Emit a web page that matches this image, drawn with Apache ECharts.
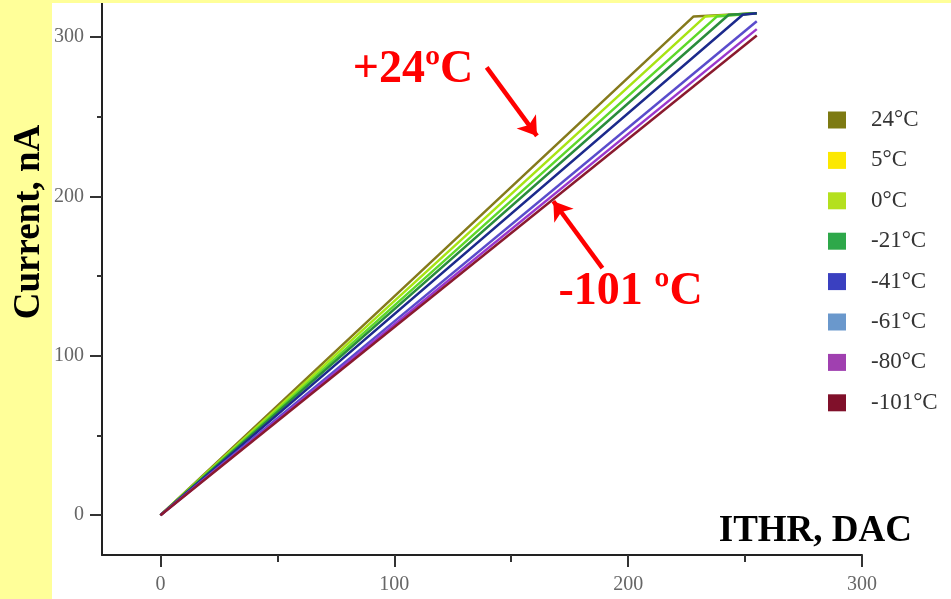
<!DOCTYPE html>
<html>
<head>
<meta charset="utf-8">
<script src="https://cdn.jsdelivr.net/npm/echarts@6/dist/echarts.min.js"></script>
<style>
  html, body { margin: 0; padding: 0; background: #ffffff; }
  #chart { width: 951px; height: 599px; }
</style>
</head>
<body>
<div id="chart"></div>
<script>
// ---- data ----
const seriesNames = ['24°C', '5°C', '0°C', '-21°C', '-41°C', '-61°C', '-80°C', '-101°C'];
const curve24  = [[0, 0], [228, 313], [255, 315]];
const curve5   = [[0, 0], [233, 313], [255, 315]];
const curve0   = [[0, 0], [238, 313], [255, 315]];
const curveM21 = [[0, 0], [243, 314], [255, 315]];
const curveM41 = [[0, 0], [249, 314], [255, 315]];
const curveM61 = [[0, 0], [255, 310]];
const curveM80 = [[0, 0], [255, 305]];
const curveM101 = [[0, 0], [255, 301]];
const curves = [curve24, curve5, curve0, curveM21, curveM41, curveM61, curveM80, curveM101];

const xTicks = [0, 100, 200, 300];
const yTicks = [0, 100, 200, 300];
const xMinorTicks = [50, 150, 250];
const yMinorTicks = [50, 150, 250];

// annotation arrows in data coordinates: [from, to]
const arrowHot  = [[139.5, 281], [161, 238]];
const arrowCold = [[189, 155], [168, 197]];
const labelHot  = { text: '+24ºC', at: [108, 279] };
const labelCold = { text: '-101 ºC', at: [201, 140] };

// ---- styles ----
const lineColors   = ['#857a1c', '#a8e414', '#5ed82a', '#2a8c3c', '#1c2a8c', '#5a4ccc', '#9a36cc', '#8a1a2e'];
const legendColors = ['#7d7a12', '#fce800', '#b4e01e', '#2ea84a', '#3a40c0', '#6a98cc', '#a040b0', '#80102a'];
const serif = '"Liberation Serif", "DejaVu Serif", serif';

const chart = echarts.init(document.getElementById('chart'), null, { renderer: 'canvas' });

const series = curves.map((d, i) => ({
  name: seriesNames[i],
  type: 'line',
  data: d,
  xAxisIndex: 0,
  yAxisIndex: 0,
  showSymbol: false,
  symbol: 'none',
  lineStyle: { color: lineColors[i], width: 2.5 },
  itemStyle: { color: lineColors[i] },
  z: 2 + i
}));

series[series.length - 1].markLine = {
  silent: true,
  symbol: ['none', 'arrow'],
  symbolSize: 18,
  label: { show: false },
  lineStyle: { color: '#ff0000', width: 4.5, type: 'solid' },
  data: [
    [{ coord: arrowHot[0] }, { coord: arrowHot[1] }],
    [{ coord: arrowCold[0] }, { coord: arrowCold[1] }]
  ]
};

const axisLineStyle = { color: '#222', width: 2 };

chart.setOption({
  animation: false,
  backgroundColor: '#ffffff',
  grid: { left: 102, right: 89, top: 3, bottom: 44, containLabel: false },
  legend: {
    orient: 'vertical',
    left: 823,
    top: 103.5,
    icon: 'rect',
    itemWidth: 18,
    itemHeight: 17,
    itemGap: 17.4,
    textStyle: { fontFamily: serif, fontSize: 23, color: '#333', padding: [0, 0, 0, 20] },
    data: seriesNames.map((n, i) => ({ name: n, itemStyle: { color: legendColors[i] } }))
  },
  xAxis: [
    {
      type: 'value', min: -25, max: 300,
      axisLine: { show: true, onZero: false, lineStyle: axisLineStyle },
      axisTick: { show: true, customValues: xTicks, length: 12, lineStyle: { color: '#333', width: 2 } },
      axisLabel: { customValues: xTicks, fontFamily: serif, fontSize: 20, color: '#666', margin: 20 },
      splitLine: { show: false }
    },
    {
      type: 'value', min: -25, max: 300, position: 'bottom',
      axisLine: { show: false, onZero: false },
      axisTick: { show: true, customValues: xMinorTicks, length: 7, lineStyle: { color: '#333', width: 2 } },
      axisLabel: { show: false },
      splitLine: { show: false }
    }
  ],
  yAxis: [
    {
      type: 'value', min: -25, max: 321.4,
      axisLine: { show: true, onZero: false, lineStyle: axisLineStyle },
      axisTick: { show: true, customValues: yTicks, length: 12, lineStyle: { color: '#333', width: 2 } },
      axisLabel: { customValues: yTicks, fontFamily: serif, fontSize: 20, color: '#666', margin: 18 },
      splitLine: { show: false }
    },
    {
      type: 'value', min: -25, max: 321.4, position: 'left',
      axisLine: { show: false, onZero: false },
      axisTick: { show: true, customValues: yMinorTicks, length: 5, lineStyle: { color: '#333', width: 2 } },
      axisLabel: { show: false },
      splitLine: { show: false }
    }
  ],
  series: series
});

const pHot = chart.convertToPixel({ xAxisIndex: 0, yAxisIndex: 0 }, labelHot.at);
const pCold = chart.convertToPixel({ xAxisIndex: 0, yAxisIndex: 0 }, labelCold.at);

chart.setOption({
  graphic: [
    { type: 'rect', left: 0, top: 0, shape: { width: 52, height: 599 }, style: { fill: '#ffff99' }, z: 100 },
    { type: 'rect', left: 0, top: 0, shape: { width: 951, height: 3 }, style: { fill: '#ffff99' }, z: 100 },
    {
      type: 'text', x: 29, y: 222, rotation: Math.PI / 2, z: 101,
      style: { text: 'Current, nA', fontFamily: serif, fontWeight: 'bold', fontSize: 37, fill: '#000', align: 'center', verticalAlign: 'middle' }
    },
    {
      type: 'text', x: 912, y: 531, z: 101,
      style: { text: 'ITHR, DAC', fontFamily: serif, fontWeight: 'bold', fontSize: 37, fill: '#000', align: 'right', verticalAlign: 'middle' }
    },
    {
      type: 'text', x: pHot[0], y: pHot[1], z: 101,
      style: { text: labelHot.text, fontFamily: serif, fontWeight: 'bold', fontSize: 46, fill: '#ff0000', align: 'center', verticalAlign: 'middle' }
    },
    {
      type: 'text', x: pCold[0], y: pCold[1], z: 101,
      style: { text: labelCold.text, fontFamily: serif, fontWeight: 'bold', fontSize: 46, fill: '#ff0000', align: 'center', verticalAlign: 'middle' }
    }
  ]
});
</script>
</body>
</html>
